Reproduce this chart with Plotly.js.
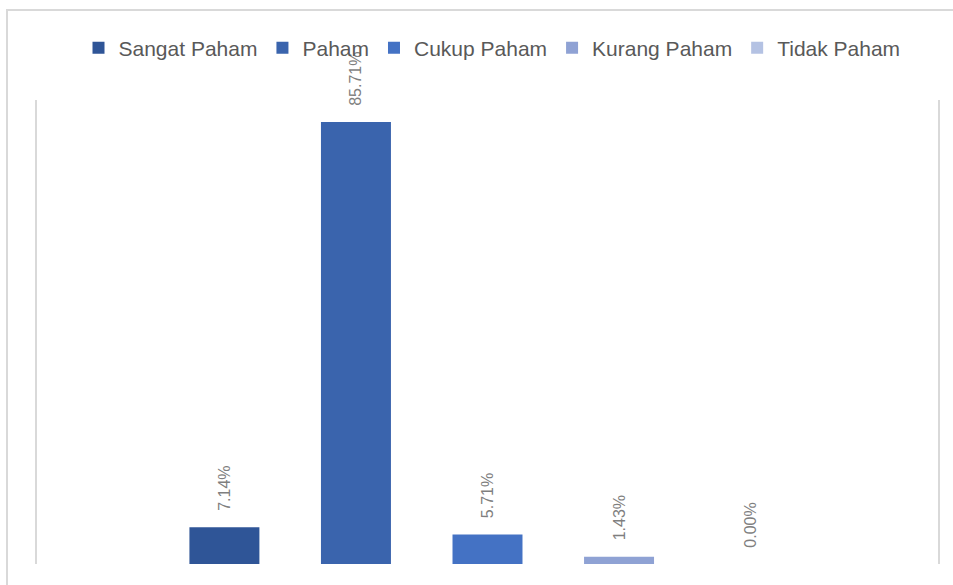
<!DOCTYPE html>
<html>
<head>
<meta charset="utf-8">
<script src="https://cdn.plot.ly/plotly-3.0.1.min.js"></script>
<style>
  html, body { margin: 0; padding: 0; background: #fff; overflow: hidden; }
  #bingkai { position: absolute; left: 6px; top: 9px; width: 1000px; height: 600px;
             border-top: 2px solid #d9d9d9; border-left: 2px solid #d9d9d9; }
  #grafik { position: absolute; left: 0; top: 0; width: 953px; height: 585px; }
</style>
</head>
<body>
<div id="bingkai"></div>
<div id="grafik"></div>
<script>
const kategori = ['Sangat Paham', 'Paham', 'Cukup Paham', 'Kurang Paham', 'Tidak Paham'];
const persen = [7.14, 85.71, 5.71, 1.43, 0.00];
const label = ['7.14%', '85.71%', '5.71%', '1.43%', '0.00%'];
const warna = ['#2F5597', '#3A64AD', '#4472C4', '#8FA2D4', '#B4C2E3'];
const grupX = ['Pemahaman'];

const data = kategori.map((nama, i) => ({
  type: 'bar',
  name: nama,
  x: grupX,
  y: [persen[i]],
  text: ['\u00a0\u00a0\u00a0' + label[i]],
  textposition: 'outside',
  textangle: -90,
  constraintext: 'none',
  cliponaxis: false,
  textfont: { family: 'Liberation Sans, Arial, sans-serif', size: 16, color: '#7f7f7f' },
  marker: { color: warna[i], line: { width: 0 } },
  hoverinfo: 'name+y'
}));

const layout = {
  width: 953,
  height: 585,
  paper_bgcolor: 'rgba(0,0,0,0)',
  plot_bgcolor: 'rgba(0,0,0,0)',
  font: { family: 'Liberation Sans, Arial, sans-serif', color: '#595959' },
  margin: { l: 37, r: 15, t: 100, b: 21 },
  barmode: 'group',
  bargap: 0.27,
  bargroupgap: 0.468,
  showlegend: true,
  legend: {
    orientation: 'h',
    x: 0.505,
    xanchor: 'center',
    y: 1.112,
    yanchor: 'middle',
    font: { size: 21, color: '#595959' },
    traceorder: 'normal'
  },
  xaxis: {
    showticklabels: false,
    showgrid: false,
    zeroline: false,
    showline: false,
    ticks: ''
  },
  yaxis: {
    range: [0, 90],
    showticklabels: false,
    showgrid: false,
    zeroline: false,
    showline: true,
    mirror: true,
    linecolor: '#d9d9d9',
    linewidth: 2,
    ticks: ''
  }
};

Plotly.newPlot('grafik', data, layout, { displayModeBar: false, staticPlot: true });
</script>
</body>
</html>
